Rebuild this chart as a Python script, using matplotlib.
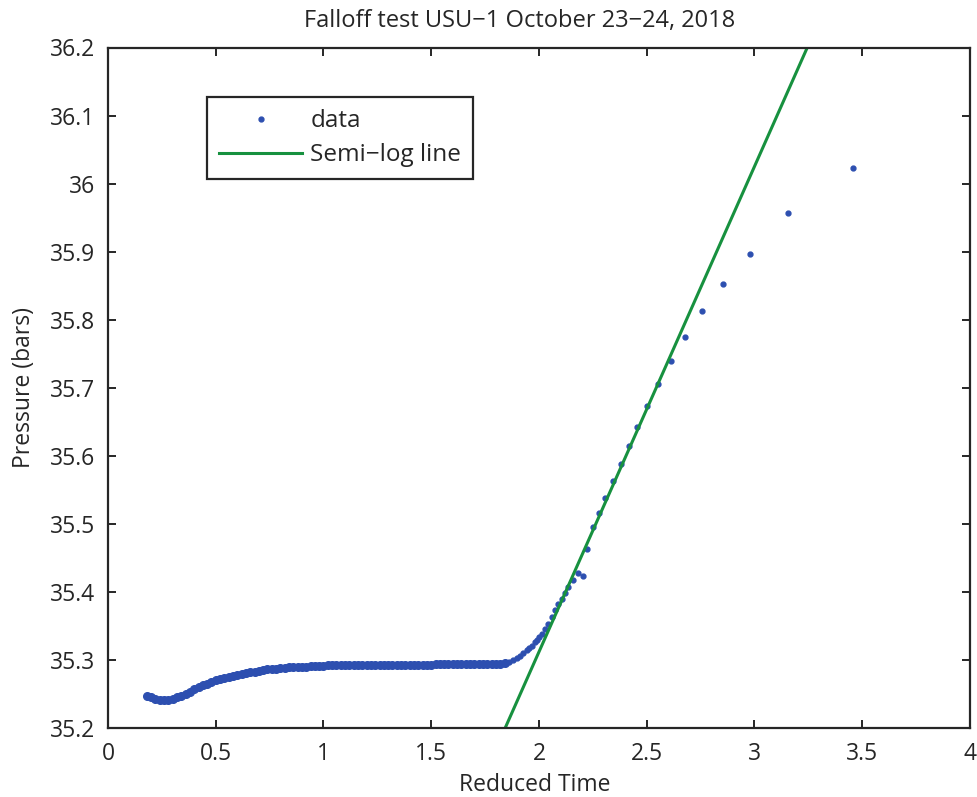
import numpy as np
import matplotlib
matplotlib.use("Agg")
import matplotlib.pyplot as plt

# pressure falloff data (reduced time, bars)
dense_time = [0.18, 0.20, 0.22, 0.24, 0.26, 0.28, 0.30, 0.32, 0.34, 0.36,
              0.38, 0.40, 0.42, 0.44, 0.46, 0.48, 0.50, 0.52, 0.54, 0.56,
              0.58, 0.60, 0.62, 0.64, 0.66, 0.68, 0.70, 0.72, 0.74, 0.76,
              0.78, 0.80, 0.82, 0.84, 0.86, 0.88, 0.90, 0.92, 0.94, 0.96,
              0.98, 1.00, 1.02, 1.04, 1.06, 1.08, 1.10, 1.12, 1.14, 1.16,
              1.18, 1.20, 1.22, 1.24, 1.26, 1.28, 1.30, 1.32, 1.34, 1.36,
              1.38, 1.40, 1.42, 1.44, 1.46, 1.48, 1.50, 1.52, 1.54, 1.56,
              1.58, 1.60, 1.62, 1.64, 1.66, 1.68, 1.70, 1.72, 1.74, 1.76,
              1.78, 1.80, 1.82, 1.84]
dense_pres = [35.247, 35.245, 35.243, 35.241, 35.241, 35.241, 35.243, 35.245, 35.247, 35.250,
              35.253, 35.257, 35.260, 35.263, 35.265, 35.268, 35.270, 35.272, 35.274, 35.275,
              35.277, 35.278, 35.279, 35.281, 35.282, 35.283, 35.284, 35.285, 35.286, 35.286,
              35.287, 35.288, 35.288, 35.289, 35.289, 35.290, 35.290, 35.290, 35.291, 35.291,
              35.291, 35.291, 35.292, 35.292, 35.292, 35.292, 35.292, 35.292, 35.292, 35.292,
              35.292, 35.292, 35.293, 35.293, 35.293, 35.293, 35.293, 35.293, 35.293, 35.293,
              35.293, 35.293, 35.293, 35.293, 35.293, 35.293, 35.293, 35.294, 35.294, 35.294,
              35.294, 35.294, 35.294, 35.294, 35.294, 35.294, 35.294, 35.294, 35.294, 35.294,
              35.294, 35.294, 35.294, 35.295]
late_time = [1.862, 1.881, 1.897, 1.912, 1.928, 1.943, 1.955, 1.966, 1.981, 1.991,
             2.001, 2.012, 2.028, 2.043, 2.059, 2.074, 2.090, 2.105, 2.121, 2.136,
             2.159, 2.180, 2.203, 2.224, 2.252, 2.280, 2.306, 2.342, 2.379, 2.416,
             2.456, 2.501, 2.552, 2.611, 2.679, 2.758, 2.855, 2.981, 3.157, 3.456]
late_pres = [35.297, 35.300, 35.303, 35.306, 35.310, 35.314, 35.317, 35.320, 35.327, 35.330,
             35.334, 35.338, 35.345, 35.353, 35.363, 35.373, 35.382, 35.390, 35.399, 35.407,
             35.417, 35.428, 35.424, 35.463, 35.495, 35.516, 35.538, 35.563, 35.588, 35.615,
             35.643, 35.673, 35.705, 35.739, 35.774, 35.813, 35.853, 35.896, 35.957, 36.023]

# semi-log straight line end points
line_time = [1.843, 3.245]
line_pres = [35.2, 36.2]

x_ticks = [0, 0.5, 1, 1.5, 2, 2.5, 3, 3.5, 4]
y_ticks = [35.2, 35.3, 35.4, 35.5, 35.6, 35.7, 35.8, 35.9, 36.0, 36.1, 36.2]
y_ticklabels = ["35.2", "35.3", "35.4", "35.5", "35.6", "35.7", "35.8", "35.9", "36", "36.1", "36.2"]

plt.rcParams['font.family'] = ['Open Sans', 'DejaVu Sans']
plt.rcParams['axes.unicode_minus'] = True

data_col = '#2d4fb0'
line_col = '#17913f'
ink = '#262626'
fs = 16.5

fig = plt.figure(figsize=(9.78, 7.97), dpi=100)
ax = fig.add_axes([108 / 978, 1 - 728 / 797, (970 - 108) / 978, (728 - 47.5) / 797])

# the early part is so dense it reads as a solid band
ax.plot(dense_time, dense_pres, '.', color=data_col, markersize=11)
ax.plot(late_time, late_pres, '.', color=data_col, markersize=7, label='data')
ax.plot(line_time, line_pres, '-', color=line_col, linewidth=2.2, label='Semi\u2212log line')

ax.set_xlim(0, 4)
ax.set_ylim(35.2, 36.2)
ax.set_xticks(x_ticks)
ax.set_xticklabels([f"{v:g}" for v in x_ticks])
ax.set_yticks(y_ticks)
ax.set_yticklabels(y_ticklabels)

for s in ax.spines.values():
    s.set_linewidth(1.6)
    s.set_color(ink)
ax.tick_params(direction='in', length=6, width=1.4, colors=ink, labelsize=fs,
               top=True, right=True, pad=9)
ax.tick_params(axis='x', pad=10)

ax.set_title("Falloff test USU\u22121 October 23\u221224, 2018", fontsize=17, color=ink,
             pad=15, x=0.478)
ax.set_xlabel("Reduced Time", fontsize=fs, color=ink)
ax.xaxis.set_label_coords(0.495, -0.066)
ax.set_ylabel("Pressure (bars)", fontsize=fs, color=ink, labelpad=10)

leg = ax.legend(loc='upper left', bbox_to_anchor=(0.115, 0.927), borderaxespad=0,
                fontsize=17.5, fancybox=False, framealpha=1, edgecolor=ink,
                handlelength=3.4, handletextpad=0.35, borderpad=0.5, labelspacing=0.4)
leg.get_frame().set_linewidth(1.6)
for txt in leg.get_texts():
    txt.set_color(ink)

fig.savefig("out.png", dpi=100)
